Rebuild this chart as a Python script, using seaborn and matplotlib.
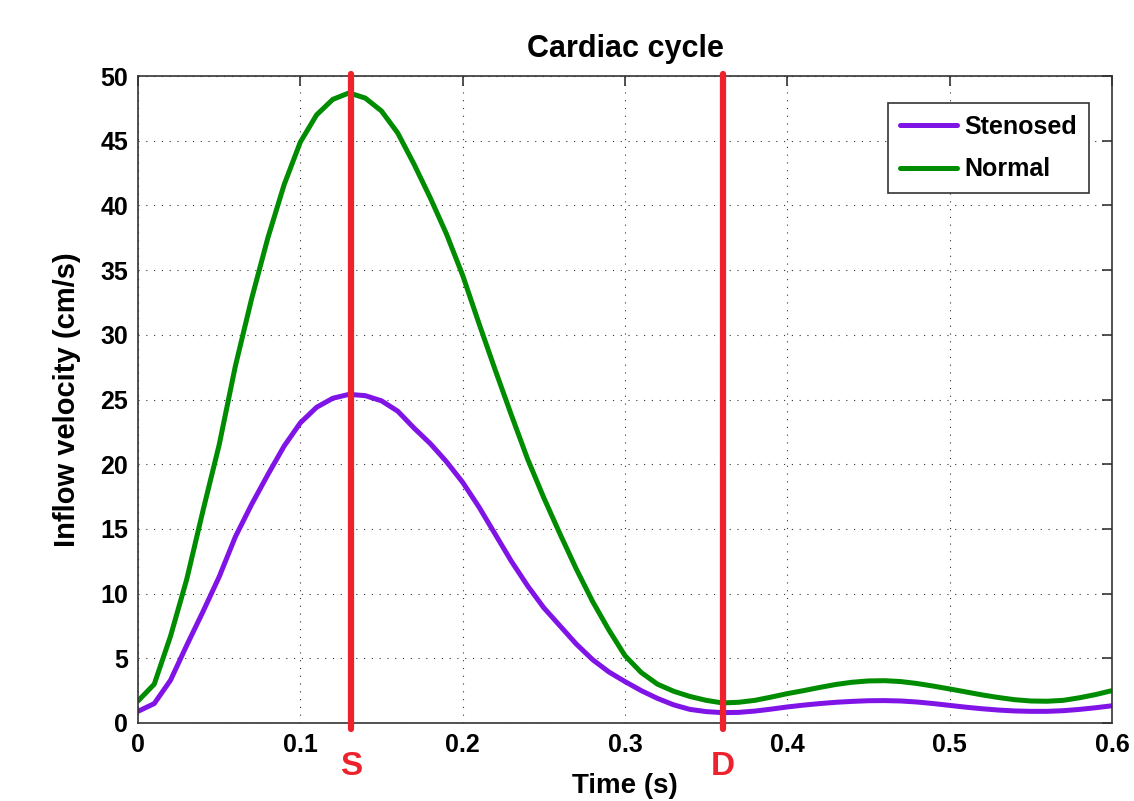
import numpy as np
import pandas as pd
import matplotlib
matplotlib.use("Agg")
import matplotlib.pyplot as plt
import seaborn as sns

# values, one every 0.01 s
t = np.round(np.arange(0, 0.601, 0.01), 2)
normal = [1.7, 3.0, 6.7, 11.1, 16.4, 21.5, 27.6, 32.8, 37.5, 41.6,
          44.9, 47.0, 48.2, 48.7, 48.3, 47.3, 45.6, 43.2, 40.6, 37.8,
          34.6, 30.9, 27.3, 23.8, 20.4, 17.4, 14.6, 11.9, 9.4, 7.2,
          5.2, 3.9, 3.0, 2.45, 2.05, 1.75, 1.55, 1.6, 1.75, 2.0,
          2.27, 2.5, 2.75, 2.98, 3.15, 3.25, 3.27, 3.2, 3.05, 2.85,
          2.63, 2.4, 2.17, 1.97, 1.8, 1.7, 1.68, 1.75, 1.95, 2.2,
          2.5]
stenosed = [0.9, 1.5, 3.3, 6.0, 8.6, 11.3, 14.4, 16.9, 19.2, 21.4,
            23.2, 24.4, 25.1, 25.4, 25.3, 24.9, 24.1, 22.8, 21.6, 20.2,
            18.6, 16.7, 14.6, 12.5, 10.6, 8.9, 7.5, 6.1, 4.9, 3.95,
            3.2, 2.5, 1.9, 1.4, 1.05, 0.88, 0.8, 0.82, 0.92, 1.07,
            1.24, 1.38, 1.5, 1.6, 1.67, 1.72, 1.73, 1.7, 1.62, 1.5,
            1.36, 1.22, 1.1, 1.0, 0.93, 0.9, 0.9, 0.95, 1.05, 1.18,
            1.33]
markers = {"S": 0.131, "D": 0.3605}

df = pd.concat([
    pd.DataFrame({"t": t, "v": stenosed, "cond": "Stenosed"}),
    pd.DataFrame({"t": t, "v": normal, "cond": "Normal"}),
])

sns.set_style("white")
plt.rcParams["font.family"] = ["Liberation Sans", "DejaVu Sans"]
plt.rcParams["font.weight"] = "bold"
plt.rcParams["text.color"] = "black"
plt.rcParams["axes.labelcolor"] = "black"

fig = plt.figure(figsize=(11.34, 8.01), dpi=100)
ax = fig.add_axes([0.1217, 0.0974, 0.8589, 0.8076])

sns.lineplot(data=df, x="t", y="v", hue="cond", ax=ax, linewidth=3.6,
             palette={"Stenosed": "#8014E6", "Normal": "#008C00"})
for ln in ax.get_lines():
    ln.set_solid_joinstyle("round")

red = "#EE222C"
for name, x in markers.items():
    ax.axvline(x, ymin=-0.009, ymax=1.003, color=red, lw=4.5,
               clip_on=False, zorder=5)
    ax.text(x, -0.068, name, transform=ax.get_xaxis_transform(),
            ha="center", va="center", color=red, fontsize=24,
            fontweight="bold")

ax.set_xlim(0, 0.6)
ax.set_ylim(0, 50)
ax.set_xticks(np.arange(0, 0.61, 0.1))
ax.set_xticklabels(["0", "0.1", "0.2", "0.3", "0.4", "0.5", "0.6"])
ax.set_yticks(np.arange(0, 51, 5))
ax.grid(True, color="#333333", linestyle=(0, (1, 6)), linewidth=0.8)
ax.tick_params(direction="in", length=7, width=1.2, top=True, right=True,
               labelsize=18, pad=7, colors="#333333", labelcolor="black")
for sp in ax.spines.values():
    sp.set_color("#333333")
    sp.set_linewidth(1.2)

ax.set_title("Cardiac cycle", fontsize=22, fontweight="bold", pad=14,
             color="black")
ax.set_xlabel("Time (s)", fontsize=20, fontweight="bold", labelpad=12)
ax.set_ylabel("Inflow velocity (cm/s)", fontsize=21, fontweight="bold",
              labelpad=14)

leg = ax.legend(loc="upper right", bbox_to_anchor=(0.976, 0.958),
                borderaxespad=0, fontsize=18, fancybox=False,
                edgecolor="#333333", framealpha=1, handlelength=2.3,
                handletextpad=0.3, borderpad=0.45, labelspacing=0.75)
leg.get_frame().set_linewidth(1.2)
for txt in leg.get_texts():
    txt.set_fontweight("bold")
    txt.set_color("black")

fig.savefig("out.png", dpi=100)
